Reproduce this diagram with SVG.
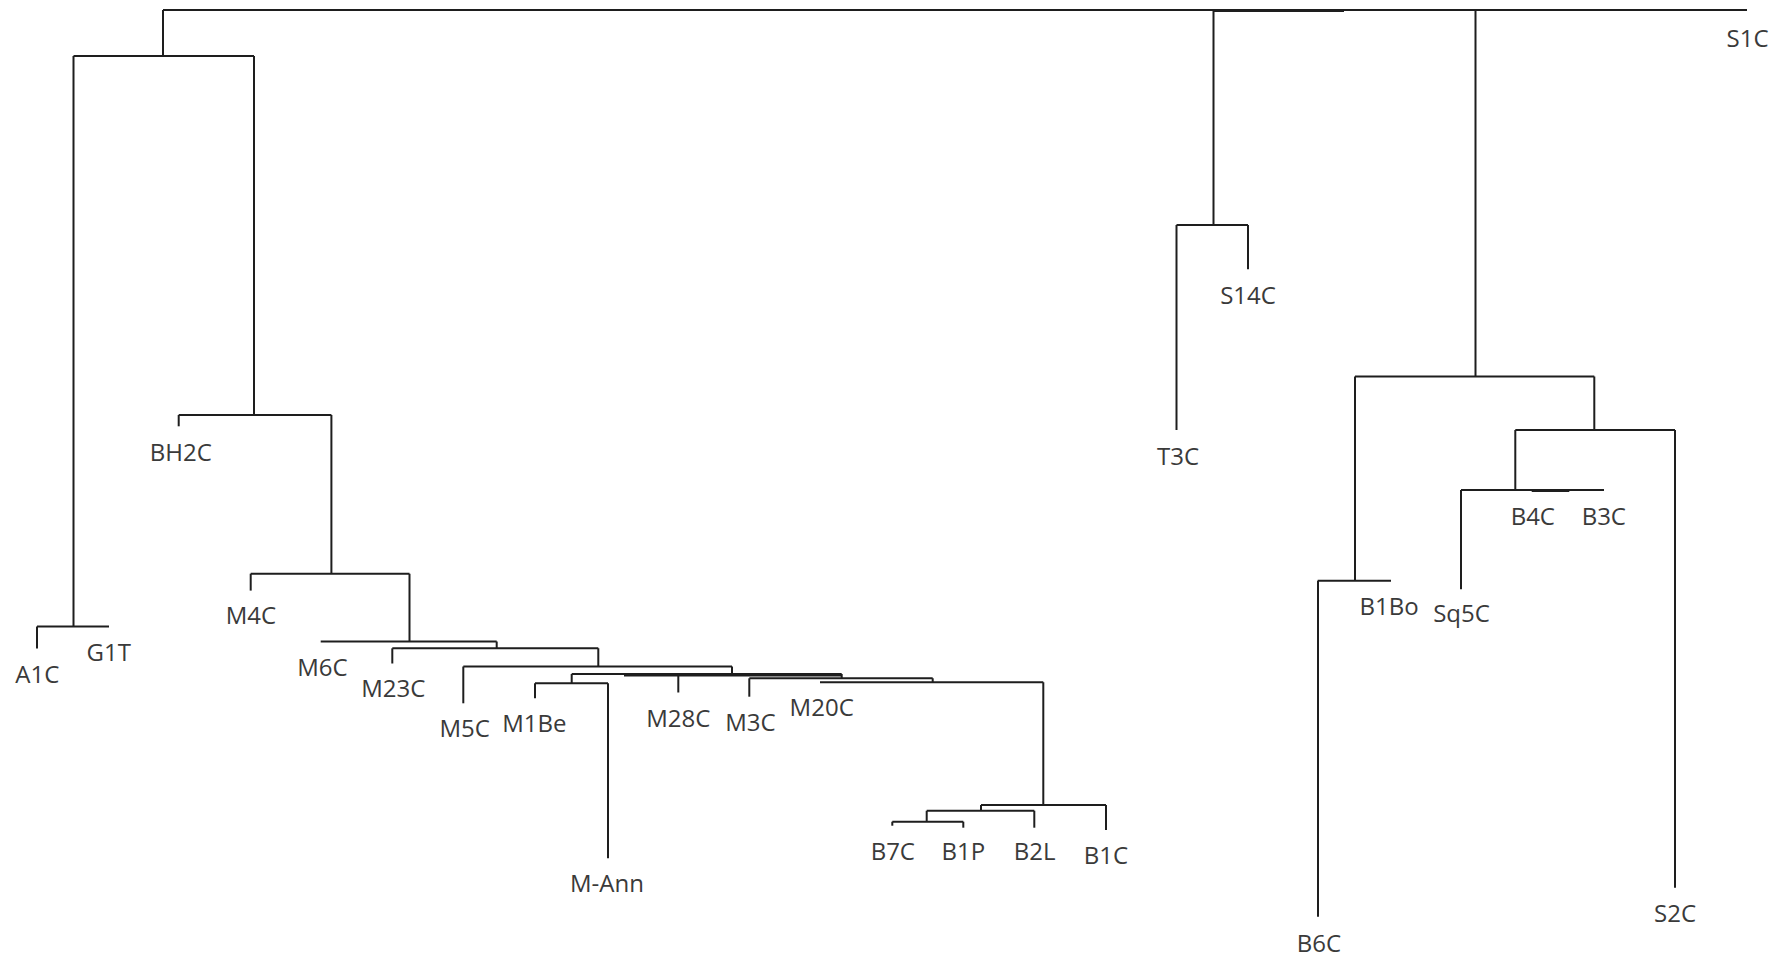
<svg xmlns="http://www.w3.org/2000/svg" width="1778" height="957" viewBox="0 0 1778 957">
<style>
.ln{stroke:#1e1e1e;stroke-width:2;fill:none;stroke-linecap:butt}
.lb{font-family:"Open Sans","Noto Sans","Liberation Sans",sans-serif;font-size:24px;fill:#3a3a3a;text-anchor:middle}
</style>
<rect width="1778" height="957" fill="#ffffff"/>
<g id="connectors" class="ln">
<path d="M163 10H1747M1213 11H1344"/>
<path d="M163 10V56M73.5 56H254M73.5 56V626.5M37 626.5H109"/>
<path d="M254 56V415M178.7 415H331.4M331.4 415V573.7M250.7 573.7H409.5M409.5 573.7V641.5"/>
<path d="M320.7 641.5H496.7M496.7 641.5V648.3M392.3 648.3H598.3M598.3 648.3V666.5M463.3 666.5H732M732 666.5V674"/>
<path d="M571.7 674H841.7M624 675.5H841.7M571.7 674V683.3M535 683.3H608M841.7 674V678.3M749.3 678.3H932.7M932.7 678.3V682.3M820 682.3H1043.3M1043.3 682.3V805"/>
<path d="M981 805H1106M981 805V810.7M926.7 810.7H1034.3M926.7 810.7V821.7M892.3 821.7H963.3"/>
<path d="M1213.5 10V225M1176.5 225H1248"/>
<path d="M1475.5 10V376.5M1355 376.5H1594.3M1355 376.5V580.7M1317.7 580.7H1391M1594.3 376.5V430M1515.3 430H1675M1515.3 430V490M1461 490H1604M1531.7 491H1569.3"/>
</g>
<g id="S1C"><text class="lb" x="1747.5" y="46.5">S1C</text></g>
<g id="A1C"><path class="ln" d="M37 626.5V648.5"/><text class="lb" x="37.3" y="683">A1C</text></g>
<g id="G1T"><text class="lb" x="108.7" y="660.5">G1T</text></g>
<g id="BH2C"><path class="ln" d="M178.7 415V426.3"/><text class="lb" x="180.8" y="460.5">BH2C</text></g>
<g id="M4C"><path class="ln" d="M250.7 573.7V590.6"/><text class="lb" x="251" y="624">M4C</text></g>
<g id="M6C"><text class="lb" x="322.4" y="675.5">M6C</text></g>
<g id="M23C"><path class="ln" d="M392.3 648.3V663.5"/><text class="lb" x="393.3" y="697.3">M23C</text></g>
<g id="M5C"><path class="ln" d="M463.3 666.5V703.3"/><text class="lb" x="464.7" y="737.3">M5C</text></g>
<g id="M1Be"><path class="ln" d="M535 683.3V698.3"/><text class="lb" x="534.3" y="731.7">M1Be</text></g>
<g id="M-Ann"><path class="ln" d="M608 683.3V858.3"/><text class="lb" x="607" y="891.7">M-Ann</text></g>
<g id="M28C"><path class="ln" d="M678.3 674V692.5"/><text class="lb" x="678.3" y="726.7">M28C</text></g>
<g id="M3C"><path class="ln" d="M749.3 678.3V696.7"/><text class="lb" x="750.5" y="730.7">M3C</text></g>
<g id="M20C"><text class="lb" x="821.7" y="716">M20C</text></g>
<g id="B7C"><path class="ln" d="M892.3 821.7V825.7"/><text class="lb" x="892.8" y="860">B7C</text></g>
<g id="B1P"><path class="ln" d="M963.3 821.7V827.7"/><text class="lb" x="963.3" y="860">B1P</text></g>
<g id="B2L"><path class="ln" d="M1034.3 810.7V827.7"/><text class="lb" x="1034.7" y="860">B2L</text></g>
<g id="B1C"><path class="ln" d="M1106 805V830"/><text class="lb" x="1106" y="864">B1C</text></g>
<g id="S14C"><path class="ln" d="M1248 225V269.3"/><text class="lb" x="1248" y="304">S14C</text></g>
<g id="T3C"><path class="ln" d="M1176.5 225V430"/><text class="lb" x="1178" y="465">T3C</text></g>
<g id="B4C"><text class="lb" x="1532.8" y="525">B4C</text></g>
<g id="B3C"><text class="lb" x="1603.8" y="525">B3C</text></g>
<g id="B1Bo"><text class="lb" x="1389" y="615">B1Bo</text></g>
<g id="Sq5C"><path class="ln" d="M1461 490V589.3"/><text class="lb" x="1461.5" y="622">Sq5C</text></g>
<g id="B6C"><path class="ln" d="M1318 580.7V916.7"/><text class="lb" x="1319" y="951.5">B6C</text></g>
<g id="S2C"><path class="ln" d="M1675 430V887.7"/><text class="lb" x="1675" y="921.7">S2C</text></g>
</svg>
